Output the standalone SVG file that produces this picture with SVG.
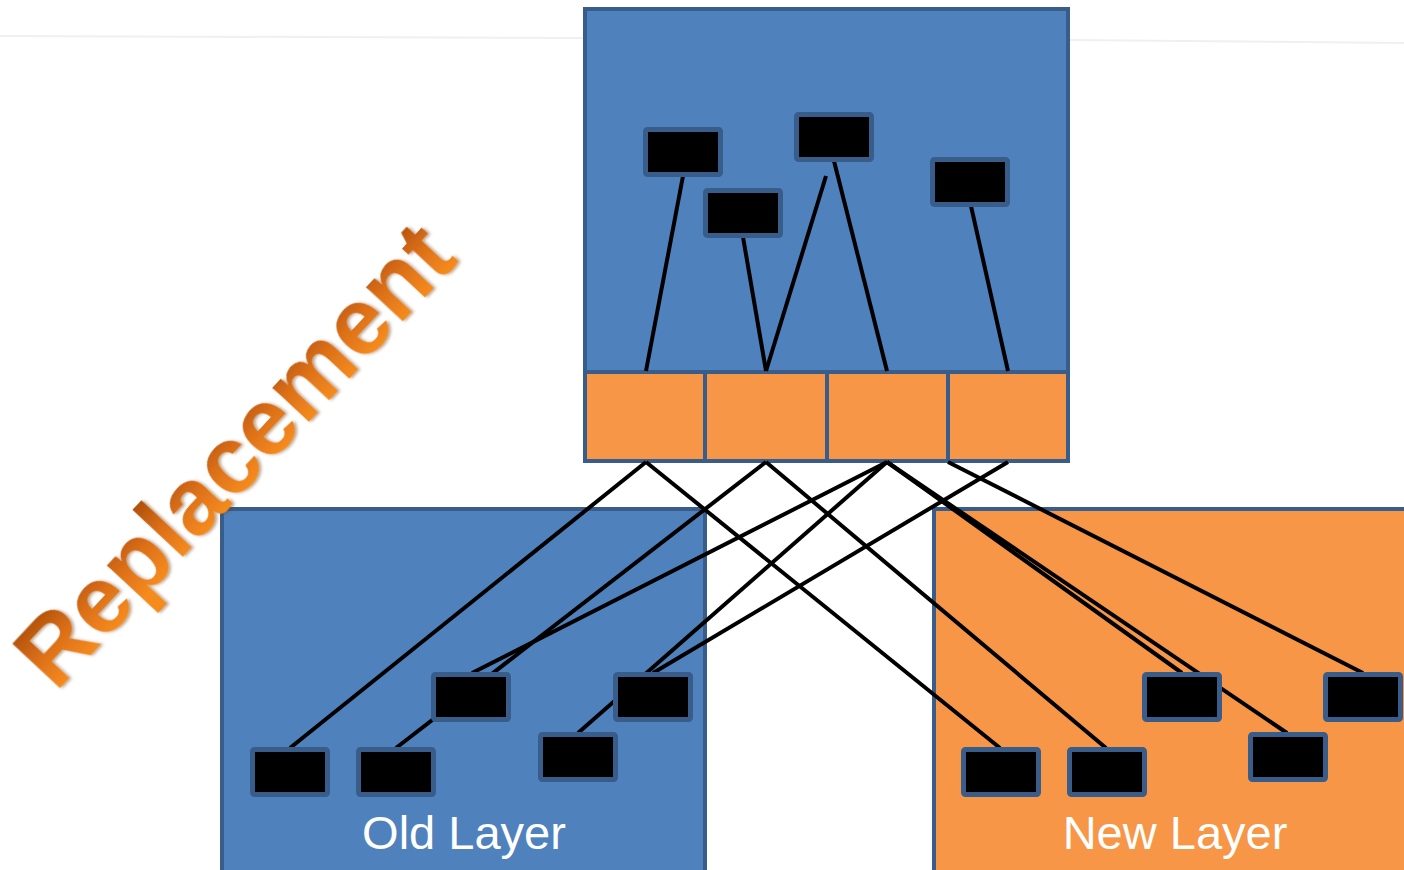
<svg xmlns="http://www.w3.org/2000/svg" width="1404" height="870" viewBox="0 0 1404 870">
  <style>
    .layer-blue { fill: #4f81bd; stroke: #385d8a; stroke-width: 4; }
    .layer-orange { fill: #f79646; stroke: #385d8a; stroke-width: 4; }
    .port { fill: #f79646; stroke: #385d8a; stroke-width: 4; }
    .unit { fill: #000000; stroke: #385d8a; stroke-width: 5; }
    .wire { stroke: #000000; stroke-width: 4; stroke-linecap: butt; fill: none; }
    .wire-low { stroke: #000000; stroke-width: 4; stroke-linecap: butt; fill: none; }
    .label { font-family: "Liberation Sans", Arial, sans-serif; font-size: 47px; fill: #ffffff; text-anchor: middle; }
    .title { font-family: "Liberation Sans", Arial, sans-serif; font-size: 95px; font-weight: bold; fill: url(#titleFill); }
  </style>
  <defs>
    <linearGradient id="titleFill" gradientUnits="userSpaceOnUse" x1="0" y1="-70" x2="0" y2="0">
      <stop offset="0" stop-color="#b0500b"/>
      <stop offset="0.5" stop-color="#dc7018"/>
      <stop offset="1" stop-color="#f58b1f"/>
    </linearGradient>
    <filter id="titleShadow" x="-10%" y="-10%" width="120%" height="120%">
      <feDropShadow dx="1.5" dy="2" stdDeviation="1.5" flood-color="#6b3300" flood-opacity="0.45"/>
    </filter>
  </defs>

  <rect width="1404" height="870" fill="#ffffff"/>

  <!-- faint rule across the top -->
  <g id="rule" stroke="#f0f0f0" stroke-width="2" fill="none">
    <line x1="0" y1="36" x2="583" y2="38"/>
    <line x1="1070" y1="40" x2="1404" y2="43"/>
  </g>

  <!-- upper module with its four ports -->
  <g id="module">
    <rect class="layer-blue" x="585" y="9" width="483" height="452"/>
    <rect class="port" x="585" y="372" width="120" height="89"/>
    <rect class="port" x="705" y="372" width="122" height="89"/>
    <rect class="port" x="827" y="372" width="121" height="89"/>
    <rect class="port" x="948" y="372" width="120" height="89"/>
  </g>

  <!-- lower layers -->
  <g id="old-layer">
    <rect class="layer-blue" x="222" y="509" width="483" height="380"/>
    <text class="label" x="464" y="849">Old Layer</text>
  </g>
  <g id="new-layer">
    <rect class="layer-orange" x="934" y="509" width="500" height="380"/>
    <text class="label" x="1175" y="849">New Layer</text>
  </g>

  <!-- connectors -->
  <g id="connectors">
    <!-- inside the module: units to ports -->
    <line class="wire" x1="683" y1="176" x2="646" y2="371"/>
    <line class="wire" x1="743" y1="237" x2="766" y2="371"/>
    <line class="wire" x1="826" y1="176" x2="766" y2="371"/>
    <line class="wire" x1="834" y1="161" x2="887" y2="371"/>
    <line class="wire" x1="971" y1="206" x2="1008" y2="371"/>
    <!-- ports down to both layers -->
    <line class="wire-low" x1="646" y1="462" x2="290" y2="748"/>
    <line class="wire-low" x1="646" y1="462" x2="1000" y2="748"/>
    <line class="wire-low" x1="766" y1="462" x2="396" y2="748"/>
    <line class="wire-low" x1="766" y1="462" x2="1106" y2="748"/>
    <line class="wire-low" x1="887" y1="462" x2="472" y2="673"/>
    <line class="wire-low" x1="887" y1="462" x2="578" y2="733"/>
    <line class="wire-low" x1="887" y1="462" x2="1182" y2="673"/>
    <line class="wire-low" x1="887" y1="462" x2="1287" y2="733"/>
    <line class="wire-low" x1="948" y1="462" x2="1363" y2="673"/>
    <line class="wire-low" x1="1008" y1="462" x2="653" y2="673"/>
  </g>

  <!-- units in the module -->
  <g id="m-unit-1"><rect class="unit" x="645.5" y="129.5" width="75" height="45" rx="2"/></g>
  <g id="m-unit-2"><rect class="unit" x="705.5" y="190.5" width="75" height="45" rx="2"/></g>
  <g id="m-unit-3"><rect class="unit" x="796.5" y="114.5" width="75" height="45" rx="2"/></g>
  <g id="m-unit-4"><rect class="unit" x="932.5" y="159.5" width="75" height="45" rx="2"/></g>

  <!-- units in the old layer -->
  <g id="old-unit-1"><rect class="unit" x="252.5" y="749.5" width="75" height="45" rx="2"/></g>
  <g id="old-unit-2"><rect class="unit" x="358.5" y="749.5" width="75" height="45" rx="2"/></g>
  <g id="old-unit-3"><rect class="unit" x="433.5" y="674.5" width="75" height="45" rx="2"/></g>
  <g id="old-unit-4"><rect class="unit" x="540.5" y="734.5" width="75" height="45" rx="2"/></g>
  <g id="old-unit-5"><rect class="unit" x="615.5" y="674.5" width="75" height="45" rx="2"/></g>

  <!-- units in the new layer -->
  <g id="new-unit-1"><rect class="unit" x="963.5" y="749.5" width="75" height="45" rx="2"/></g>
  <g id="new-unit-2"><rect class="unit" x="1069.5" y="749.5" width="75" height="45" rx="2"/></g>
  <g id="new-unit-3"><rect class="unit" x="1144.5" y="674.5" width="75" height="45" rx="2"/></g>
  <g id="new-unit-4"><rect class="unit" x="1250.5" y="734.5" width="75" height="45" rx="2"/></g>
  <g id="new-unit-5"><rect class="unit" x="1325.5" y="674.5" width="75" height="45" rx="2"/></g>

  <!-- diagonal heading -->
  <g id="heading" transform="translate(56 693) rotate(-47)" filter="url(#titleShadow)">
    <text class="title" x="0" y="0">Replacement</text>
  </g>
</svg>
